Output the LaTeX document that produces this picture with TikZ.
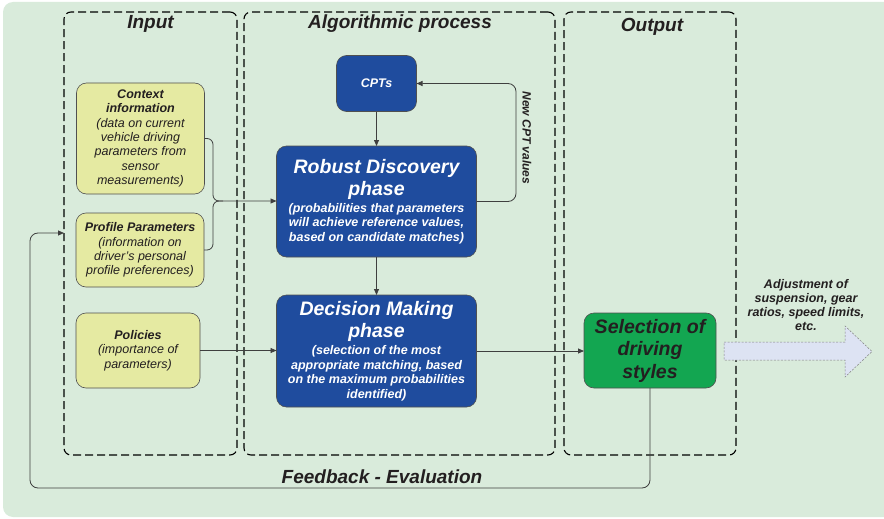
\documentclass[tikz,border=0pt]{standalone}
\usepackage{fontspec}
\setmainfont{Liberation Sans}
\usetikzlibrary{arrows.meta}

\definecolor{bgc}{HTML}{D9EBDB}
\definecolor{yfill}{HTML}{E5EAA2}
\definecolor{bfill}{HTML}{1F4C9E}
\definecolor{gfill}{HTML}{13A651}
\definecolor{afill}{HTML}{DDE3F3}
\definecolor{boxline}{HTML}{505050}
\definecolor{txt}{HTML}{231F20}
\definecolor{conn}{HTML}{3F3F3F}

\newcommand\bigt[1]{{\fontsize{19.5}{22}\selectfont #1}}

\begin{document}
\begin{tikzpicture}[x=1pt,y=-1pt,
  panel/.style={draw=black, dash pattern=on 8pt off 4pt, line width=1.1pt,
    rounded corners=7pt, inner sep=0pt, outer sep=0pt},
  paneltitle/.style={anchor=base, text=txt, font=\bfseries\itshape\fontsize{19}{22}\selectfont},
  ybox/.style={draw=boxline, fill=yfill, line width=0.6pt, rounded corners=10pt,
    inner sep=0pt, outer sep=0pt, align=center, text=txt,
    font=\itshape\fontsize{12.5}{14.4}\selectfont},
  bbox/.style={draw=boxline, fill=bfill, line width=0.6pt, rounded corners=10pt,
    inner sep=0pt, outer sep=0pt, align=center, text=white,
    font=\bfseries\itshape\fontsize{12.5}{22}\selectfont},
  gbox/.style={draw=boxline, fill=gfill, line width=0.6pt, rounded corners=10pt,
    inner sep=0pt, outer sep=0pt, align=center, text=txt,
    font=\bfseries\itshape\fontsize{19.5}{22.5}\selectfont},
  label/.style={text=txt, align=center, font=\bfseries\itshape\fontsize{12.5}{14}\selectfont},
  conn/.style={draw=conn, line width=0.8pt},
  tip/.style={-{Triangle[length=6pt,width=5pt]}}
]
\useasboundingbox (0,0) rectangle (884,519);

% background
\fill[bgc, rounded corners=10pt] (3,2) rectangle (900,517);

% dashed column frames
\node[panel, minimum width=173pt, minimum height=443pt] (inputpanel) at (150.5,233.5) {};
\node[panel, minimum width=311pt, minimum height=443pt] (algpanel) at (399.5,233.5) {};
\node[panel, minimum width=172pt, minimum height=443pt] (outpanel) at (650,233.5) {};

\node[paneltitle] (inputtitle) at (150.5,29) {Input};
\node[paneltitle] (algtitle) at (400,29) {Algorithmic process};
\node[paneltitle] (outtitle) at (652,32) {Output};

% input boxes
\node[ybox, minimum width=128pt, minimum height=111pt] (context) at (140.5,138.5)
  {\textbf{Context}\\\textbf{information}\\(data on current\\vehicle driving\\parameters from\\sensor\\measurements)};
\node[ybox, minimum width=128pt, minimum height=74pt] (profile) at (140,250)
  {\textbf{Profile Parameters}\\(information on\\driver's personal\\profile preferences)};
\node[ybox, minimum width=124pt, minimum height=75pt] (policies) at (138,350.5)
  {\textbf{Policies}\\(importance of\\parameters)};

% algorithmic process boxes
\node[bbox, minimum width=80pt, minimum height=56pt, font=\bfseries\itshape\fontsize{12.5}{14}\selectfont] (cpt) at (376.5,83.5) {CPTs};
\node[bbox, minimum width=200pt, minimum height=111pt] (robust) at (376.5,201.5)
  {\bigt{Robust Discovery}\\\bigt{phase}\\[-5pt](probabilities that parameters\\[-7.5pt]will achieve reference values,\\[-7.5pt]based on candidate matches)};
\node[bbox, minimum width=200pt, minimum height=112pt] (decision) at (376.5,351)
  {\bigt{Decision Making}\\\bigt{phase}\\[-5pt](selection of the most\\[-7.5pt]appropriate matching, based\\[-7.5pt]on the maximum probabilities\\[-7.5pt]identified)};

% output box
\node[gbox, minimum width=132pt, minimum height=75pt] (selection) at (650,350.5)
  {Selection of\\driving\\styles};

% outgoing hollow arrow
\path[draw=gray, fill=afill, line width=0.5pt, dash pattern=on 2pt off 1.5pt]
  (724,342) -- (845,342) -- (845,326) -- (872,351.5) -- (845,377) -- (845,360) -- (724,360) -- cycle;
\node[label] (adjust) at (806,305) {Adjustment of\\suspension, gear\\ratios, speed limits,\\etc.};

% joining bracket from context and profile
\coordinate (join) at (213,201);
\draw[conn, rounded corners=6pt] (profile.east) -- (profile.east -| join) -- (join) -- ++(10,0);
\draw[conn, tip, rounded corners=6pt] (context.east) -- (context.east -| join) -- (join) -- (join -| robust.west);

% main flow
\draw[conn, tip] (cpt) -- (robust);
\draw[conn, tip] (robust) -- (decision);
\draw[conn, tip] (policies.east) -- (policies.east -| decision.west);
\draw[conn, tip] (decision.east) -- (decision.east -| selection.west);

% CPT update loop
\coordinate (loopc) at (516,83.5);
\draw[conn, tip, rounded corners=8pt] (robust.east) -| (loopc) -- (cpt.east);
\node[label, rotate=-90, font=\bfseries\itshape\fontsize{12}{14}\selectfont] (newcpt) at (527,138) {New CPT values};

% feedback loop
\coordinate (fbA) at (650,488);
\coordinate (fbB) at (30,488);
\coordinate (fbC) at (30,233);
\coordinate (fbin) at (64,233);
\draw[conn, tip, rounded corners=8pt] (selection.south) -- (fbA) -- (fbB) -- (fbC) -- (fbin);
\node[paneltitle] (feedback) at (382,483) {Feedback - Evaluation};

\end{tikzpicture}
\end{document}
